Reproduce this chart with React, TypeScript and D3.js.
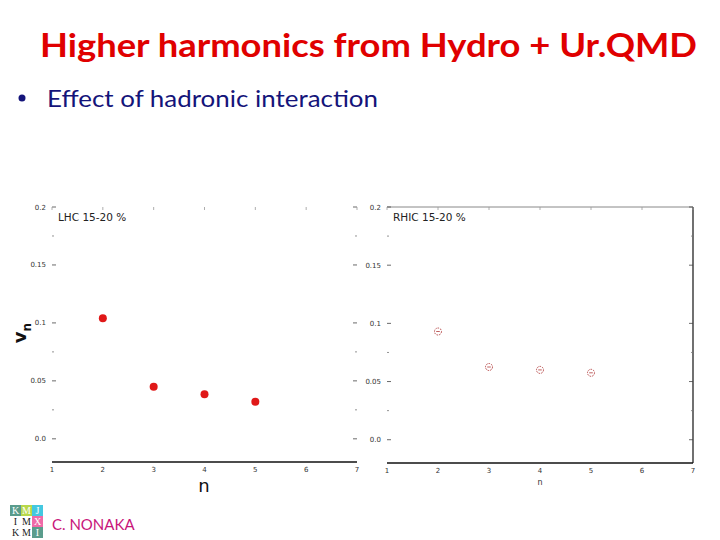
import React from "react";
import * as d3 from "d3";

const harmonics = [2, 3, 4, 5];
const lhcValues = [0.104, 0.045, 0.0385, 0.032];
const rhicValues = [0.093, 0.0625, 0.06, 0.0575];
const yMajorTicks = [0, 0.05, 0.1, 0.15, 0.2];
const yTickLabels = ["0.0", "0.05", "0.1", "0.15", "0.2"];
const yMinorTicks = [0.025, 0.075, 0.175];
const xTicks = [1, 2, 3, 4, 5, 6, 7];
const titleText = "Higher harmonics from Hydro + Ur.QMD";
const bulletText = "Effect of hadronic interaction";
const authorText = "C. NONAKA";
const logoLetters = [["K", "M", "J"], ["I", "M", "X"], ["K", "M", "I"]];
const logoFills = [["#5a9c8c", "#b8d84a", "#44c8e0"], ["#ffffff", "#ffffff", "#f06aa8"], ["#ffffff", "#ffffff", "#5a9c8c"]];
const logoTextColors = [["#fff", "#fff", "#fff"], ["#222", "#222", "#fff"], ["#222", "#222", "#fff"]];

type PanelProps = {
  x0: number; x1: number; y0: number; y1: number;
  values: number[]; label: string; filled: boolean; frame: boolean;
};

function Panel({ x0, x1, y0, y1, values, label, filled, frame }: PanelProps) {
  const x = d3.scaleLinear().domain([1, 7]).range([x0, x1]);
  const y = d3.scaleLinear().domain([-0.02, 0.2]).range([y1, y0]);
  const tickFont = "DejaVu Sans";
  return (
    <g>
      {frame && (
        <g>
          <line x1={x0} x2={x1} y1={y0} y2={y0} stroke="#888" strokeWidth={1} />
          <line x1={x1} x2={x1} y1={y0} y2={y1} stroke="#111" strokeWidth={1.2} />
        </g>
      )}
      <line x1={x0} x2={x1} y1={y1} y2={y1} stroke="#111" strokeWidth={1.5} />
      {yMajorTicks.map((t, i) => (
        <g key={"ym" + i}>
          <line x1={x0} x2={x0 + 4} y1={y(t)} y2={y(t)} stroke="#444" strokeWidth={0.8} />
          <line x1={x1 - 4} x2={x1} y1={y(t)} y2={y(t)} stroke="#444" strokeWidth={0.8} />
          <text x={x0 - 6} y={y(t) + 2.5} fontSize={7} fontFamily={tickFont} textAnchor="end" fill="#333">
            {yTickLabels[i]}
          </text>
        </g>
      ))}
      {yMinorTicks.map((t, i) => (
        <g key={"yn" + i}>
          <line x1={x0} x2={x0 + 2} y1={y(t)} y2={y(t)} stroke="#777" strokeWidth={0.8} />
          <line x1={x1 - 2} x2={x1} y1={y(t)} y2={y(t)} stroke="#777" strokeWidth={0.8} />
        </g>
      ))}
      {xTicks.map((t) => (
        <g key={"x" + t}>
          <line x1={x(t)} x2={x(t)} y1={y0} y2={y0 + 3} stroke="#999" strokeWidth={0.8} />
          <text x={x(t)} y={y1 + 10} fontSize={7} fontFamily={tickFont} textAnchor="middle" fill="#333">
            {t}
          </text>
        </g>
      ))}
      <text x={x0 + 6} y={y0 + 14} fontSize={10.5} fontFamily="DejaVu Sans" fill="#222">
        {label}
      </text>
      {harmonics.map((n, i) =>
        filled ? (
          <circle key={n} cx={x(n)} cy={y(values[i])} r={4} fill="#e01818" />
        ) : (
          <g key={n}>
            <circle cx={x(n)} cy={y(values[i])} r={3.5} fill="none" stroke="#b03a3a" strokeWidth={0.9} strokeDasharray="1.6 1" />
            <line x1={x(n) - 1.8} x2={x(n) + 1.8} y1={y(values[i])} y2={y(values[i])} stroke="#b03a3a" strokeWidth={0.8} />
          </g>
        )
      )}
    </g>
  );
}

export default function App() {
  return (
    <svg width={720} height={540} style={{ position: "absolute", left: 0, top: 0, background: "#fff" }}>
      <rect x={0} y={0} width={720} height={540} fill="#fff" />
      <text x={40} y={57} fontSize={33} fontWeight="bold" fontFamily="Lato" fill="#e00000"
        textLength={657} lengthAdjust="spacingAndGlyphs">
        {titleText}
      </text>
      <circle cx={22} cy={98} r={3.5} fill="#14147a" />
      <text x={47} y={107} fontSize={23} fontFamily="Lato" fill="#14147a"
        textLength={331} lengthAdjust="spacingAndGlyphs">
        {bulletText}
      </text>

      <Panel x0={52} x1={357} y0={207} y1={462} values={lhcValues} label="LHC 15-20 %" filled={true} frame={false} />
      <Panel x0={387} x1={693} y0={207} y1={463} values={rhicValues} label="RHIC 15-20 %" filled={false} frame={true} />

      <text transform="translate(26,333) rotate(-90)" fontFamily="DejaVu Sans" fontWeight="bold" fill="#111" textAnchor="middle">
        <tspan fontSize={18}>v</tspan>
        <tspan fontSize={12} dy={5}>n</tspan>
      </text>
      <text x={204} y={492} fontSize={18} fontFamily="DejaVu Sans" textAnchor="middle" fill="#111">n</text>
      <text x={540} y={485} fontSize={8} fontFamily="DejaVu Sans" textAnchor="middle" fill="#333">n</text>

      {logoLetters.map((row, r) =>
        row.map((ch, c) => (
          <g key={r + "-" + c}>
            <rect x={10 + c * 11} y={505 + r * 11} width={11} height={11} fill={logoFills[r][c]} />
            <text x={15.5 + c * 11} y={514 + r * 11} fontSize={10} fontFamily="Liberation Serif" textAnchor="middle" fill={logoTextColors[r][c]}>
              {ch}
            </text>
          </g>
        ))
      )}
      <text x={52} y={530} fontSize={15} fontFamily="Lato" fill="#c8147a">{authorText}</text>
    </svg>
  );
}
